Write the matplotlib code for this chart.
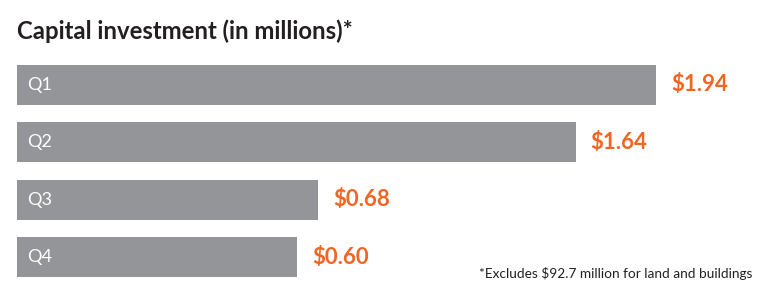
import numpy as np
import matplotlib.pyplot as plt

# data
quarters = ["Q1", "Q2", "Q3", "Q4"]
investment = [1.94, 1.64, 0.68, 0.60]
value_labels = ["$1.94", "$1.64", "$0.68", "$0.60"]

title = "Capital investment (in millions)*"
footnote = "*Excludes $92.7 million for land and buildings"

bar_color = "#939598"
accent = "#f26522"
text_dark = "#231f20"

plt.rcParams['font.family'] = ['Lato', 'DejaVu Sans']

fig = plt.figure(figsize=(7.7, 3.0), dpi=100)
ax = fig.add_axes([17 / 770, 18 / 300, 753 / 770, 222 / 300])

# bars don't start at zero in the original; they share a fixed stub
base = -0.444
y = np.arange(len(quarters))
vals = np.array(investment)
ax.barh(y, vals - base, left=base, height=0.70, color=bar_color)

ax.set_xlim(base, base + 753 / 268)
ax.set_ylim(3.436, -0.436)
ax.axis('off')

for yi, q, v, lab in zip(y, quarters, vals, value_labels):
    ax.annotate(q, (base, yi), xytext=(7, 0), textcoords='offset points',
                ha='left', va='center', color='white', fontsize=13)
    ax.annotate(lab, (v, yi), xytext=(11, 0), textcoords='offset points',
                ha='left', va='center', color=accent, fontsize=16,
                fontweight='bold')

fig.text(17 / 770, 1 - 31 / 300, title, ha='left', va='center',
         fontsize=17.2, fontweight='bold', color=text_dark)
fig.text(752 / 770, 1 - 273 / 300, footnote, ha='right', va='center',
         fontsize=9.8, color=text_dark)

fig.savefig("out.png", dpi=100)
